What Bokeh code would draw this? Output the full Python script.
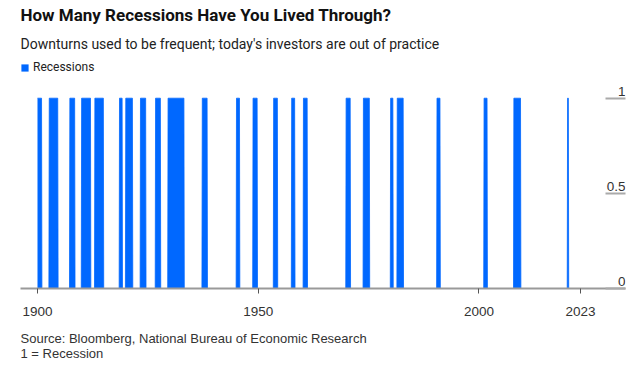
import pandas as pd
from bokeh.plotting import figure
from bokeh.models import (ColumnDataSource, FixedTicker, Range1d, LinearAxis, Title,
                          Legend, LegendItem, CustomJSTickFormatter)
from bokeh.core.properties import value
from bokeh.embed import file_html
from bokeh.resources import INLINE

# NBER business-cycle peaks and troughs (monthly)
rec_peak = ["1899-06", "1902-09", "1907-05", "1910-01", "1913-01", "1918-08", "1920-01",
            "1923-05", "1926-10", "1929-08", "1937-05", "1945-02", "1948-11", "1953-07",
            "1957-08", "1960-04", "1969-12", "1973-11", "1980-01", "1981-07", "1990-07",
            "2001-03", "2007-12", "2020-02"]
rec_trough = ["1900-12", "1904-08", "1908-06", "1912-01", "1914-12", "1919-03", "1921-07",
              "1924-07", "1927-11", "1933-03", "1938-06", "1945-10", "1949-10", "1954-05",
              "1958-04", "1961-02", "1970-11", "1975-03", "1980-07", "1982-11", "1991-03",
              "2001-11", "2009-06", "2020-04"]
series_start = "1900-01"
series_end = "2020-06"
x_ticks = [1900, 1950, 2000, 2023]
y_ticks = [0, 0.5, 1]
y_tick_labels = ["0", "0.5", "1"]

BLUE = "#0068ff"
HEAD = "Roboto"
SANS = "Liberation Sans"

months = pd.period_range(series_start, series_end, freq="M")
peaks = [pd.Period(s, freq="M") for s in rec_peak]
troughs = [pd.Period(s, freq="M") for s in rec_trough]
xs, ys = [], []
for m in months:
    xs.append(m.year + (m.month - 1) / 12.0)
    ys.append(1 if any(a <= m <= b for a, b in zip(peaks, troughs)) else 0)
src = ColumnDataSource(dict(x=xs, y=ys))

p = figure(width=632, height=370, output_backend="svg", toolbar_location=None, title=None,
           x_range=Range1d(1896.15, 2033.2), y_range=Range1d(0, 1.198),
           y_axis_location=None, min_border_left=20, min_border_right=7,
           min_border_top=60, min_border_bottom=80)
p.outline_line_color = None
p.xgrid.visible = False
p.ygrid.visible = False
p.background_fill_color = "white"
p.border_fill_color = "white"

r = p.varea(x="x", y1=0, y2="y", source=src, fill_color=BLUE)
p.line(x="x", y="y", source=src, line_color=BLUE, line_width=1, line_alpha=0.8)

# x axis
xa = p.xaxis[0]
xa.ticker = FixedTicker(ticks=x_ticks)
xa.minor_tick_line_color = None
xa.axis_line_color = "#999999"
xa.axis_line_width = 2
xa.major_tick_line_color = "#555555"
xa.major_tick_out = 5
xa.major_tick_in = 0
xa.major_label_standoff = 13
xa.major_label_text_font = SANS
xa.major_label_text_font_size = "13.5px"
xa.major_label_text_color = "#333333"

# right axis: inward tick marks only
ya = LinearAxis(ticker=FixedTicker(ticks=y_ticks),
                formatter=CustomJSTickFormatter(code="return ''"))
ya.axis_line_color = None
ya.minor_tick_line_color = None
ya.major_tick_in = 20
ya.major_tick_out = 0
ya.major_tick_line_color = "#aaaaaa"
ya.major_tick_line_width = 2
ya.major_label_standoff = 0
p.add_layout(ya, "right")

ylab = ColumnDataSource(dict(y=y_ticks, t=y_tick_labels))
p.text(x=p.x_range.end, y="y", text="t", source=ylab, text_align="right",
       text_baseline="alphabetic", y_offset=-7, text_font=value(SANS),
       text_font_size="13.5px", text_color="#333333")

legend = Legend(items=[LegendItem(label="Recessions", renderers=[r])],
                orientation="horizontal", location="top_left", glyph_width=9,
                glyph_height=9, label_height=12, label_text_font=HEAD,
                label_text_font_size="12px", label_text_color="#222222", padding=0,
                margin=0, spacing=0, label_standoff=4, border_line_color=None,
                background_fill_alpha=0)
p.add_layout(legend)

sub = Title(text="Downturns used to be frequent; today's investors are out of practice",
            align="left", text_font=HEAD, text_font_size="14px",
            text_font_style="normal", text_color="#222222", standoff=17)
p.add_layout(sub, "above")
ttl = Title(text="How Many Recessions Have You Lived Through?", align="left",
            text_font=HEAD, text_font_size="17px", text_font_style="bold",
            text_color="#111111", standoff=1)
p.add_layout(ttl, "above")

note = Title(text="Source: Bloomberg, National Bureau of Economic Research\n1 = Recession",
             align="left", text_font=SANS, text_font_size="13px", text_font_style="normal",
             text_color="#333333", text_line_height=1.0, standoff=20)
p.add_layout(note, "below")

open("out.html", "w").write(file_html(p, INLINE))
